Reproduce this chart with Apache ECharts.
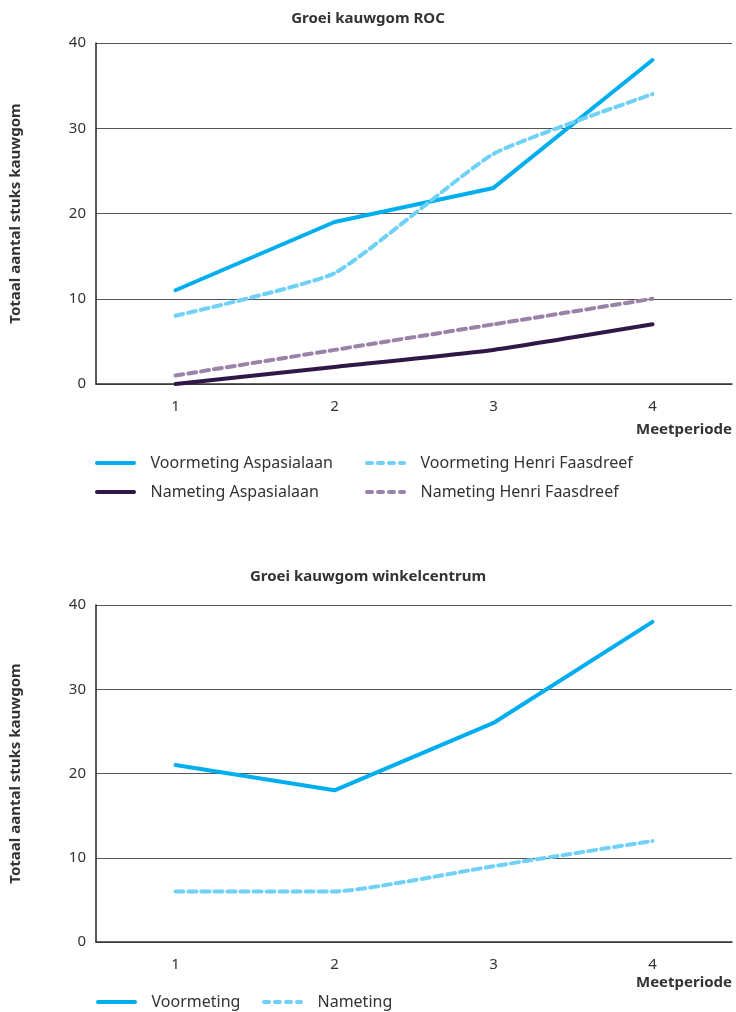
<!DOCTYPE html>
<html>
<head>
<meta charset="utf-8">
<script src="https://cdn.jsdelivr.net/npm/echarts@6/dist/echarts.min.js"></script>
<style>html,body{margin:0;padding:0;background:#fff;}#c{width:736px;height:1012px;}</style>
</head>
<body>
<div id="c"></div>
<script>
var categories = ['1', '2', '3', '4'];
var yTicks = [0, 10, 20, 30, 40];
var rocVoorAspasia = [11, 19, 23, 38];
var rocVoorHenri = [8, 13, 27, 34];
var rocNaAspasia = [0, 2, 4, 7];
var rocNaHenri = [1, 4, 7, 10];
var winkelVoor = [21, 18, 26, 38];
var winkelNa = [6, 6, 9, 12];

var FONT = '"Noto Sans", "Open Sans", sans-serif';
var C_BLUE = '#00aeef';
var C_LBLUE = '#6fd1f6';
var C_DPURP = '#2f1748';
var C_LPURP = '#9b82a8';
var DASH = [8, 5];
var ICON_SOLID = 'path://M2,0h37a2,2 0 0 1 0,4h-37a2,2 0 0 1 0,-4z';
var ICON_DASH = 'path://M2,0h5a2,2 0 0 1 0,4h-5a2,2 0 0 1 0,-4zM13,0h5a2,2 0 0 1 0,4h-5a2,2 0 0 1 0,-4zM24,0h5a2,2 0 0 1 0,4h-5a2,2 0 0 1 0,-4zM35,0h4a2,2 0 0 1 0,4h-4a2,2 0 0 1 0,-4z';

var chart = echarts.init(document.getElementById('c'), null, {renderer: 'canvas'});

function xAxis(gi) {
  return {
    type: 'category', gridIndex: gi, data: categories, boundaryGap: true,
    axisLine: {show: true, lineStyle: {color: '#333', width: 1.5}},
    axisTick: {show: false},
    axisLabel: {color: '#333', fontSize: 15, fontFamily: FONT, margin: 15}
  };
}
function yAxis(gi) {
  return {
    type: 'value', gridIndex: gi, min: yTicks[0], max: yTicks[yTicks.length - 1], interval: yTicks[1] - yTicks[0],
    name: 'Totaal aantal stuks kauwgom', nameLocation: 'middle', nameRotate: 90, nameGap: 73,
    nameTextStyle: {color: '#333', fontSize: 15, fontWeight: 'bold', fontFamily: FONT},
    axisLine: {show: true, lineStyle: {color: '#222', width: 1.5}},
    axisTick: {show: false},
    axisLabel: {color: '#333', fontSize: 15, fontFamily: FONT, margin: 10},
    splitLine: {show: true, lineStyle: {color: '#555', width: 1}}
  };
}
function line(name, data, gi, color, dashed, smooth) {
  return {
    name: name, type: 'line', xAxisIndex: gi, yAxisIndex: gi, data: data,
    symbol: 'none', smooth: smooth ? 0.15 : false,
    lineStyle: {color: color, width: 4, type: dashed ? DASH : 'solid', cap: 'round'},
    itemStyle: {color: color}
  };
}
function legend(name, left, top, dashed) {
  return {
    data: [{name: name, icon: dashed ? ICON_DASH : ICON_SOLID}], left: left, top: top,
    itemWidth: 46, itemHeight: 4, itemGap: 9,
    textStyle: {color: '#333', fontSize: 16, fontFamily: FONT, padding: [0, 0, 0, 7]},
    selectedMode: false
  };
}

var option = {
  animation: false,
  backgroundColor: '#fff',
  title: [
    {text: 'Groei kauwgom ROC', left: 'center', top: 6, textStyle: {color: '#333', fontSize: 15, fontWeight: 'bold', fontFamily: FONT}},
    {text: 'Groei kauwgom winkelcentrum', left: 'center', top: 564, textStyle: {color: '#333', fontSize: 15, fontWeight: 'bold', fontFamily: FONT}}
  ],
  grid: [
    {left: 96, top: 43, width: 636, height: 341},
    {left: 96, top: 605, width: 636, height: 337}
  ],
  xAxis: [xAxis(0), xAxis(1)],
  yAxis: [yAxis(0), yAxis(1)],
  legend: [
    legend('Voormeting Aspasialaan', 90, 450, false),
    legend('Nameting Aspasialaan', 90, 479, false),
    legend('Voormeting Henri Faasdreef', 360, 450, true),
    legend('Nameting Henri Faasdreef', 360, 479, true),
    legend('Voormeting', 91, 989, false),
    legend('Nameting', 257, 989, true)
  ],
  graphic: [
    {type: 'text', right: 4, top: 422, style: {text: 'Meetperiode', fill: '#333', font: 'bold 15px ' + FONT}},
    {type: 'text', right: 4, top: 975, style: {text: 'Meetperiode', fill: '#333', font: 'bold 15px ' + FONT}}
  ],
  series: [
    line('Voormeting Aspasialaan', rocVoorAspasia, 0, C_BLUE, false, false),
    line('Voormeting Henri Faasdreef', rocVoorHenri, 0, C_LBLUE, true, true),
    line('Nameting Aspasialaan', rocNaAspasia, 0, C_DPURP, false, true),
    line('Nameting Henri Faasdreef', rocNaHenri, 0, C_LPURP, true, true),
    line('Voormeting', winkelVoor, 1, C_BLUE, false, false),
    line('Nameting', winkelNa, 1, C_LBLUE, true, true)
  ]
};
chart.setOption(option);
</script>
</body>
</html>
